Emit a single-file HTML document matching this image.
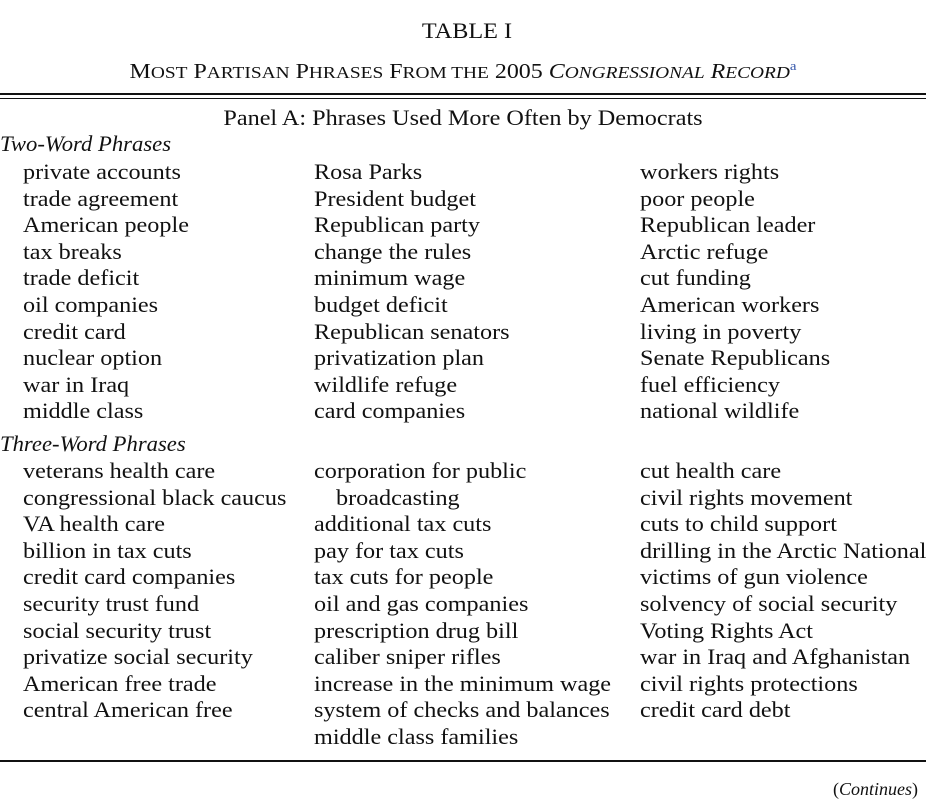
<!DOCTYPE html>
<html><head><meta charset="utf-8"><style>
body{margin:0;width:934px;height:810px;background:#fff;position:relative;font-family:"Liberation Serif",serif;color:#111;overflow:hidden}
.t{position:absolute;font-size:22px;line-height:26px;white-space:nowrap;transform:scaleX(1.1);transform-origin:left center}
.c{transform-origin:center center}
.r{position:absolute;left:0;width:926px;background:#111}
i{font-style:italic}
.sc{font-size:17px}
</style></head><body>
<div class="t c" style="left:0;width:934px;text-align:center;top:18px">TABLE I</div>
<div class="t c" style="left:0;width:926px;text-align:center;top:53px;font-size:21px;transform:scaleX(1.14)">M<span class="sc">OST</span> P<span class="sc">ARTISAN</span> P<span class="sc">HRASES</span> F<span class="sc">ROM THE</span> 2005 <i>C<span class="sc">ONGRESSIONAL</span> R<span class="sc">ECORD</span></i><sup style="font-size:13px;color:#3355aa">a</sup></div>
<div class="r" style="top:93px;height:2px"></div>
<div class="r" style="top:98px;height:1px"></div>
<div class="t c" style="left:0;width:926px;text-align:center;top:105px">Panel A: Phrases Used More Often by Democrats</div>
<div class="t" style="left:0;top:131px;transform:scaleX(1.03)"><i>Two-Word Phrases</i></div>
<div class="t" style="left:0;top:431px;transform:scaleX(1.03)"><i>Three-Word Phrases</i></div>
<div id="rows"></div>
<div class="r" style="top:760px;height:2px"></div>
<div class="t" style="right:16px;top:776px;font-size:18px;transform:none">(<i>Continues</i>)</div>
<script>
const col1=["private accounts","trade agreement","American people","tax breaks","trade deficit","oil companies","credit card","nuclear option","war in Iraq","middle class"];
const col2=["Rosa Parks","President budget","Republican party","change the rules","minimum wage","budget deficit","Republican senators","privatization plan","wildlife refuge","card companies"];
const col3=["workers rights","poor people","Republican leader","Arctic refuge","cut funding","American workers","living in poverty","Senate Republicans","fuel efficiency","national wildlife"];
const col4=["veterans health care","congressional black caucus","VA health care","billion in tax cuts","credit card companies","security trust fund","social security trust","privatize social security","American free trade","central American free"];
const col5=["corporation for public","   broadcasting","additional tax cuts","pay for tax cuts","tax cuts for people","oil and gas companies","prescription drug bill","caliber sniper rifles","increase in the minimum wage","system of checks and balances","middle class families"];
const col6=["cut health care","civil rights movement","cuts to child support","drilling in the Arctic National","victims of gun violence","solvency of social security","Voting Rights Act","war in Iraq and Afghanistan","civil rights protections","credit card debt"];
const rows=document.getElementById('rows');
function put(arr,x,y0){arr.forEach((s,i)=>{const d=document.createElement('div');d.className='t';


d.style.left=(s.startsWith('   ')?x+22:x)+'px';d.style.top=(y0+i*26.6)+'px';d.textContent=s.trim();rows.appendChild(d);});}
put(col1,23,159);put(col2,314,159);put(col3,640,159);
put(col4,23,458);put(col5,314,458);put(col6,640,458);
</script>
</body></html>
